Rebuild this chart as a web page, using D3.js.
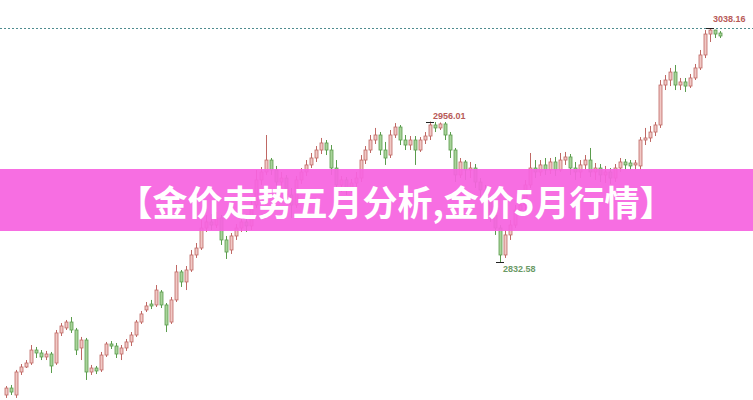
<!DOCTYPE html>
<html><head><meta charset="utf-8">
<script src="https://cdn.jsdelivr.net/npm/d3@7"></script>
<style>html,body{margin:0;padding:0;background:#fff;}svg{display:block;}</style>
</head><body>
<script>
const title = "【金价走势五月分析,金价5月行情】";
const openP = [2715.8,2721.9,2715.8,2736.0,2740.4,2743.9,2755.3,2752.7,2749.2,2751.8,
2743.9,2770.3,2774.7,2779.9,2772.9,2757.1,2764.1,2736.0,2739.5,2737.8,
2750.9,2760.6,2758.8,2751.8,2757.1,2762.4,2768.5,2779.9,2790.5,2795.7,
2794.9,2806.3,2794.9,2779.9,2799.3,2823.9,2815.1,2825.6,2838.8,2844.9,
2862.5,2867.8,2865.1,2871.3,2852.0,2843.2,2855.5,2862.5,2867.8,2864.3,
2882.7,2904.7,2911.7,2922.2,2913.5,2902.9,2906.4,2891.5,2882.7,2904.7,
2911.7,2917.9,2924.0,2931.0,2937.2,2931.0,2915.2,2900.3,2904.7,2897.6,
2902.0,2906.4,2922.2,2931.0,2939.8,2944.2,2931.0,2926.6,2944.2,2951.2,
2939.8,2935.4,2939.8,2931.0,2939.8,2943.3,2953.0,2950.4,2953.9,2944.2,
2931.0,2909.1,2920.5,2913.5,2915.2,2902.9,2895.9,2887.1,2873.9,2862.5,
2838.8,2856.4,2865.1,2878.3,2882.7,2900.3,2915.2,2911.7,2917.9,2913.5,
2920.5,2913.5,2922.2,2924.9,2915.2,2911.7,2917.9,2922.2,2911.7,2915.2,
2909.1,2911.7,2906.4,2915.2,2920.5,2919.6,2917.9,2917.0,2939.8,2941.6,
2946.8,2953.0,2988.1,2992.5,2999.5,2988.1,2990.8,2987.2,2994.3,3003.1,
3014.5,3032.9,3036.4,3033.8];
const highP = [2723.7,2724.6,2737.8,2743.0,2746.5,2759.7,2758.0,2755.3,2754.5,2753.6,
2772.9,2779.0,2781.7,2784.3,2774.7,2766.8,2765.9,2742.2,2741.3,2753.6,
2762.4,2763.2,2761.5,2759.7,2765.0,2771.1,2781.7,2789.6,2797.5,2799.3,
2812.4,2808.0,2796.6,2801.9,2830.0,2825.6,2829.1,2843.2,2849.3,2869.5,
2873.9,2874.8,2876.6,2873.9,2855.5,2858.1,2866.0,2871.3,2873.0,2887.1,
2913.5,2916.1,2944.2,2924.0,2917.0,2911.7,2909.1,2897.6,2908.2,2915.2,
2922.2,2928.4,2934.5,2941.6,2939.8,2935.4,2922.2,2908.2,2907.3,2905.6,
2911.7,2926.6,2934.5,2944.2,2950.4,2946.8,2938.1,2948.6,2954.7,2953.0,
2944.2,2943.3,2943.3,2942.4,2946.8,2956.01,2955.6,2955.2,2955.6,2946.8,
2932.8,2924.0,2922.2,2920.5,2918.7,2906.4,2900.3,2890.6,2880.1,2865.1,
2860.7,2869.5,2882.7,2888.9,2904.7,2928.4,2922.2,2922.2,2924.0,2924.0,
2924.9,2928.4,2929.3,2927.5,2920.5,2922.2,2926.6,2932.8,2919.6,2918.7,
2917.0,2915.2,2918.7,2924.0,2923.1,2922.2,2922.2,2942.4,2950.4,2952.1,
2955.6,2992.5,2996.9,3003.1,3005.7,2994.3,2994.3,2997.8,3006.6,3018.9,
3036.4,3038.16,3036.6,3035.5];
const lowP = [2713.2,2715.8,2713.2,2733.4,2739.5,2742.2,2748.3,2746.5,2746.5,2735.1,
2742.2,2767.6,2772.9,2770.3,2750.9,2746.5,2729.0,2733.4,2734.2,2736.0,
2749.2,2756.2,2748.3,2746.5,2754.5,2758.8,2766.8,2778.2,2788.7,2791.3,
2793.1,2792.2,2771.1,2778.2,2797.5,2810.7,2808.0,2823.9,2836.2,2843.2,
2859.0,2860.7,2862.5,2847.6,2835.3,2839.7,2852.0,2859.0,2859.0,2860.7,
2880.1,2900.3,2909.1,2909.1,2895.9,2897.6,2887.1,2871.3,2880.1,2901.2,
2908.2,2915.2,2920.5,2927.5,2926.6,2909.1,2882.7,2894.1,2891.5,2893.3,
2895.9,2902.9,2918.7,2928.4,2936.3,2926.6,2917.9,2924.0,2941.6,2935.4,
2931.0,2931.0,2917.9,2929.3,2936.3,2939.8,2946.8,2948.6,2939.8,2924.0,
2902.9,2906.4,2904.7,2906.4,2897.6,2888.9,2878.3,2867.8,2856.4,2832.58,
2836.2,2852.0,2862.5,2873.9,2878.3,2897.6,2906.4,2908.2,2909.1,2909.9,
2908.2,2911.7,2917.9,2909.1,2904.7,2906.4,2913.5,2907.3,2904.7,2902.9,
2902.0,2901.2,2902.9,2911.7,2913.5,2913.5,2913.5,2913.5,2935.4,2938.1,
2943.3,2950.4,2983.7,2987.2,2983.7,2983.7,2982.0,2985.5,2992.5,3001.3,
3011.8,3025.9,3029.4,3029.4];
const closeP = [2721.9,2718.4,2736.0,2740.4,2743.9,2755.3,2752.7,2749.2,2751.8,2741.3,
2770.3,2776.4,2779.9,2772.9,2755.3,2764.1,2736.0,2739.5,2736.9,2750.9,
2760.6,2758.8,2751.8,2757.1,2762.4,2768.5,2779.9,2787.0,2794.0,2794.0,
2808.0,2794.9,2777.3,2799.3,2823.9,2815.1,2825.6,2838.8,2844.9,2862.5,
2867.8,2865.1,2871.3,2852.0,2841.4,2855.5,2862.5,2867.8,2864.3,2882.7,
2904.7,2911.7,2922.2,2913.5,2902.9,2906.4,2891.5,2882.7,2904.7,2911.7,
2917.9,2924.0,2931.0,2937.2,2931.0,2915.2,2900.3,2904.7,2897.6,2902.0,
2906.4,2922.2,2931.0,2939.8,2944.2,2931.0,2924.0,2944.2,2951.2,2939.8,
2935.4,2939.8,2931.0,2939.8,2943.3,2953.0,2950.4,2953.9,2944.2,2931.0,
2909.1,2920.5,2913.5,2915.2,2902.9,2895.9,2887.1,2873.9,2862.5,2838.8,
2856.4,2865.1,2878.3,2882.7,2900.3,2915.2,2911.7,2917.9,2913.5,2920.5,
2913.5,2922.2,2924.9,2915.2,2911.7,2917.9,2922.2,2911.7,2915.2,2909.1,
2911.7,2906.4,2915.2,2920.5,2917.9,2917.0,2919.6,2939.8,2941.6,2946.8,
2953.0,2988.1,2992.5,2999.5,2988.1,2990.8,2987.2,2994.3,3003.1,3014.5,
3032.9,3036.4,3032.9,3031.2];
// price extremes annotated on the chart
const markValues = [3038.16, 2956.01, 2832.58];
const markLabels = ["3038.16","2956.01","2832.58"];

const W = 753, H = 400;
const candles = closeP.map((c,i)=>({i, o:openP[i], h:highP[i], l:lowP[i], c}));

const svg = d3.select("body").append("svg").attr("width",W).attr("height",H);
const x = d3.scaleBand().domain(candles.map(d=>d.i)).range([3,723]).padding(0.4);
const y = d3.scaleLinear().domain([2711.4, 3062.8]).range([H, 0]);

const upStroke = "#bf6864", upFill = "#f1c9c5", dnStroke = "#5a9c4c", dnFill = "#a8d39a";

// dashed line at the top high
svg.append("line").attr("x1",0).attr("x2",W)
  .attr("y1",Math.round(y(markValues[0]))+0.5).attr("y2",Math.round(y(markValues[0]))+0.5)
  .attr("stroke","#4f8c8f").attr("stroke-width",1).attr("stroke-dasharray","2,2");

const g = svg.append("g");
const cx = d => x(d.i) + x.bandwidth()/2;
g.selectAll("line.wick").data(candles).join("line").attr("class","wick")
  .attr("x1",d=>Math.round(cx(d))+0.5).attr("x2",d=>Math.round(cx(d))+0.5)
  .attr("y1",d=>y(d.h)).attr("y2",d=>y(d.l))
  .attr("stroke",d=>d.c>=d.o?upStroke:dnStroke).attr("stroke-width",1);
g.selectAll("rect.body").data(candles).join("rect").attr("class","body")
  .attr("x",d=>Math.round(cx(d))-1)
  .attr("width",3)
  .attr("y",d=>y(Math.max(d.o,d.c)))
  .attr("height",d=>Math.max(1,Math.abs(y(d.o)-y(d.c))))
  .attr("fill",d=>d.c>=d.o?upFill:dnFill)
  .attr("stroke",d=>d.c>=d.o?upStroke:dnStroke).attr("stroke-width",0.8);

// extreme markers: find the candle whose high/low equals each annotated value
const marks = [
  {i:highP.indexOf(markValues[0]), v:markValues[0], label:markLabels[0], dy:-7, color:"#b85a57"},
  {i:highP.indexOf(markValues[1]), v:markValues[1], label:markLabels[1], dy:-4, color:"#b85a57"},
  {i:lowP.indexOf(markValues[2]), v:markValues[2], label:markLabels[2], dy:9, color:"#6b9a66"}
];
marks.forEach(m=>{
  const px = Math.round(x(m.i)+x.bandwidth()/2);
  const py = Math.round(y(m.v))+0.5;
  svg.append("line").attr("x1",px-4).attr("x2",px+4).attr("y1",py).attr("y2",py)
    .attr("stroke","#222").attr("stroke-width",1);
  svg.append("text").attr("x",px+3).attr("y",py+m.dy)
    .attr("font-family","Liberation Sans, Arial, sans-serif").attr("font-size",9)
    .attr("font-weight","bold").attr("fill",m.color).text(m.label);
});

// banner
svg.append("rect").attr("x",0).attr("y",169).attr("width",W).attr("height",62)
  .attr("fill","#f663e0").attr("opacity",0.93);
svg.append("text").attr("x",396).attr("y",216).attr("text-anchor","middle")
  .attr("font-family","Noto Sans CJK SC, sans-serif").attr("font-weight","bold")
  .attr("font-size",35).attr("fill","#ffffff").text(title);
</script>
</body></html>
